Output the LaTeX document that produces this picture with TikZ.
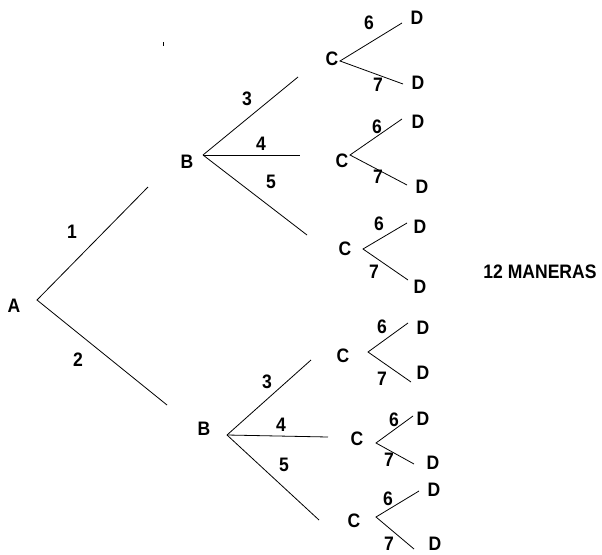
\documentclass[tikz,border=0pt]{standalone}
\usepackage{fontspec}
\setmainfont{Liberation Sans}[FakeStretch=0.9]
\begin{document}
\begin{tikzpicture}[x=1pt,y=-1pt,
  lbl/.style={font=\fontsize{19.5}{22}\selectfont\bfseries, inner sep=0pt, anchor=center},
  br/.style={draw=black, line width=0.8pt}]
\useasboundingbox (0,0) rectangle (602,554);
% stray speck
\fill (162.5,42) rectangle (163.7,46);
% A level
\node[lbl] (A) at (14,306) {A};
\coordinate (a) at (37,300);
\coordinate (e1) at (148,187);
\coordinate (e2) at (167,405);
\draw[br] (e1) -- (a) -- (e2);
\node[lbl] (n1) at (72,232) {1};
\node[lbl] (n2) at (78,360) {2};
% top B
\node[lbl] (B1) at (187,162) {B};
\coordinate (b1) at (203,155);
\coordinate (b1e3) at (298,77);
\coordinate (b1e4) at (300,155);
\coordinate (b1e5) at (307,235);
\draw[br] (b1) -- (b1e3); \draw[br] (b1) -- (b1e4); \draw[br] (b1) -- (b1e5);
\node[lbl] (t3) at (247,99) {3};
\node[lbl] (t4) at (261,144) {4};
\node[lbl] (t5) at (271,182) {5};
% bottom B
\node[lbl] (B2) at (204,429) {B};
\coordinate (b2) at (227,435);
\coordinate (b2e3) at (311,360);
\coordinate (b2e4) at (328,437);
\coordinate (b2e5) at (319,520);
\draw[br] (b2) -- (b2e3); \draw[br] (b2) -- (b2e4); \draw[br] (b2) -- (b2e5);
\node[lbl] (u3) at (267,382) {3};
\node[lbl] (u4) at (281,425) {4};
\node[lbl] (u5) at (284,465) {5};
% C groups: label pos, vertex, upper end, upper D, lower end, lower D, 6 pos, 7 pos
\foreach \i/\cx/\cy/\vx/\vy/\ux/\uy/\udx/\udy/\lx/\ly/\ldx/\ldy/\sx/\sy/\tx/\ty in {
 1/332/59/340/61/402/23/417/18/403/84/418/83/369/23/378/85,
 2/342/161/350/155/402/119/418/122/407/185/422/187/377/127/378/177,
 3/345/249/363/249/407/223/420/227/408/280/420/287/379/224/374/272,
 4/343/356/368/352/408/323/423/328/411/382/423/373/382/327/382/379,
 5/357/439/376/443/413/416/423/419/414/464/433/463/394/420/389/460,
 6/354/521/376/517/419/491/434/490/414/549/435/544/388/499/389/544}{
  \node[lbl] (C\i) at (\cx,\cy) {C};
  \coordinate (c\i) at (\vx,\vy);
  \coordinate (cu\i) at (\ux,\uy);
  \coordinate (cl\i) at (\lx,\ly);
  \draw[br] (cu\i) -- (c\i) -- (cl\i);
  \node[lbl] (Du\i) at (\udx,\udy) {D};
  \node[lbl] (Dl\i) at (\ldx,\ldy) {D};
  \node[lbl] (s\i) at (\sx,\sy) {6};
  \node[lbl] (t\i) at (\tx,\ty) {7};
}
\node[lbl] (tot) at (540,272) {12 MANERAS};
\end{tikzpicture}
\end{document}
